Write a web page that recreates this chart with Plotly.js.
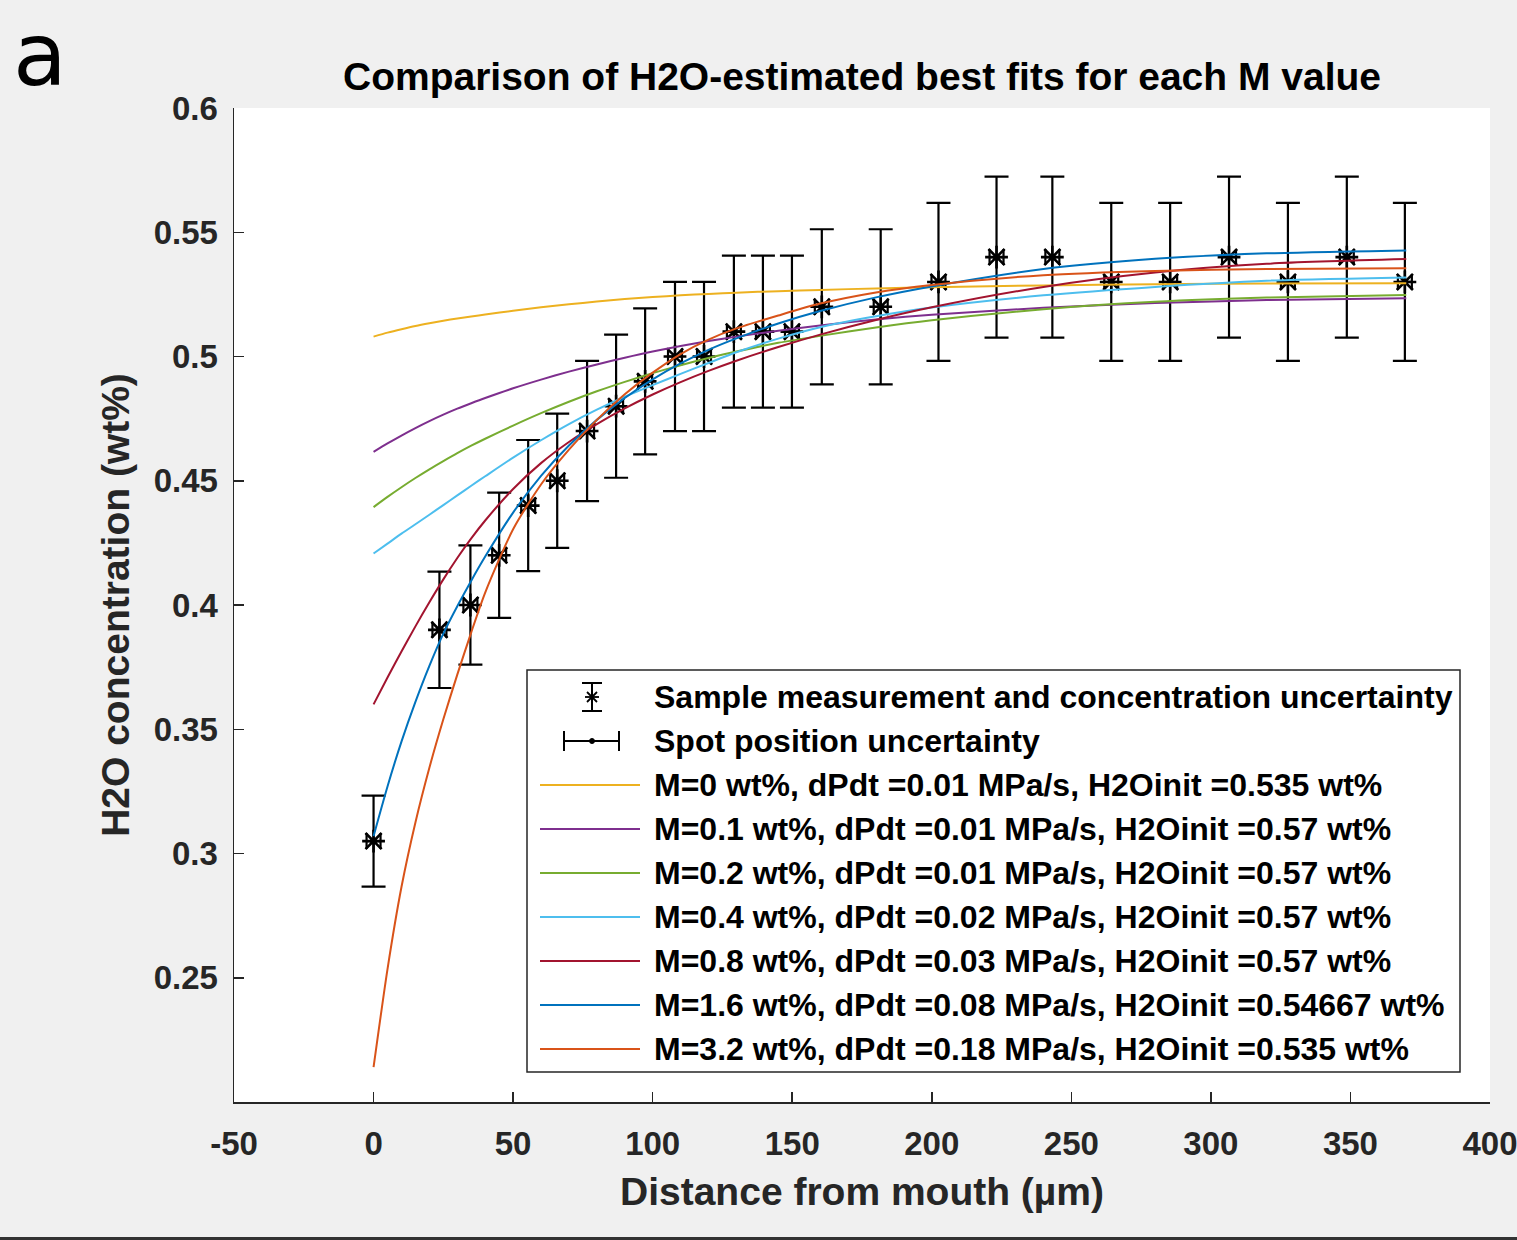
<!DOCTYPE html>
<html>
<head>
<meta charset="utf-8">
<script src="https://cdn.plot.ly/plotly-3.0.1.min.js"></script>
<style>html,body{margin:0;padding:0;background:#f0f0f0;}#chart{width:1517px;height:1240px;}</style>
</head>
<body>
<div id="chart"></div>
<script>
// ---------------- DATA ----------------
const positionUm = [0, 23.6, 34.7, 45, 55.4, 65.8, 76.5, 86.9, 97.3, 108, 118.4, 129.1, 139.5, 149.9, 160.6, 181.7, 202.4, 223.2, 243.2, 264.3, 285.4, 306.5, 327.6, 348.7, 369.5];
const h2oConc = [0.305, 0.39, 0.40, 0.42, 0.44, 0.45, 0.47, 0.48, 0.49, 0.50, 0.50, 0.51, 0.51, 0.51, 0.52, 0.52, 0.53, 0.54, 0.54, 0.53, 0.53, 0.54, 0.53, 0.54, 0.53];
const concErr = [0.0183, 0.0234, 0.024, 0.0252, 0.0264, 0.027, 0.0282, 0.0288, 0.0294, 0.03, 0.03, 0.0306, 0.0306, 0.0306, 0.0312, 0.0312, 0.0318, 0.0324, 0.0324, 0.0318, 0.0318, 0.0324, 0.0318, 0.0324, 0.0318];
const positionErr = [2.5, 2.5, 2.5, 2.5, 2.5, 2.5, 2.5, 2.5, 2.5, 2.5, 2.5, 2.5, 2.5, 2.5, 2.5, 2.5, 2.5, 2.5, 2.5, 2.5, 2.5, 2.5, 2.5, 2.5, 2.5];

const fitX = [0, 5, 10, 15, 20, 25, 30, 35, 40, 50, 60, 70, 80, 90, 100, 110, 120, 130, 145, 160, 180, 200, 240, 280, 320, 370];
const fitM0   = [0.508, 0.5096, 0.511, 0.5123, 0.5134, 0.5144, 0.5153, 0.5161, 0.5169, 0.5184, 0.5198, 0.521, 0.5221, 0.5231, 0.5239, 0.5246, 0.5252, 0.5257, 0.5263, 0.5268, 0.5274, 0.5279, 0.5286, 0.5291, 0.5294, 0.5295];
const fitM01  = [0.4616, 0.465, 0.4682, 0.4712, 0.474, 0.4766, 0.479, 0.4812, 0.4833, 0.4872, 0.4907, 0.4939, 0.4968, 0.4995, 0.502, 0.5042, 0.5062, 0.508, 0.5104, 0.5125, 0.5149, 0.5168, 0.5196, 0.5215, 0.5227, 0.5234];
const fitM02  = [0.4394, 0.4435, 0.4474, 0.4511, 0.4546, 0.4579, 0.4611, 0.4641, 0.4669, 0.4722, 0.4772, 0.4818, 0.486, 0.4898, 0.4933, 0.4965, 0.4994, 0.502, 0.5055, 0.5083, 0.5117, 0.5146, 0.519, 0.522, 0.5237, 0.5247];
const fitM04  = [0.4207, 0.4247, 0.4287, 0.4325, 0.4363, 0.4402, 0.4441, 0.448, 0.4518, 0.4593, 0.4663, 0.4728, 0.4786, 0.4838, 0.4885, 0.493, 0.4974, 0.5017, 0.5072, 0.5118, 0.5162, 0.5197, 0.5246, 0.528, 0.5305, 0.5318];
const fitM08  = [0.360, 0.3708, 0.3813, 0.3914, 0.4011, 0.4103, 0.4189, 0.4268, 0.434, 0.4467, 0.4571, 0.4656, 0.4728, 0.4791, 0.4847, 0.4897, 0.4942, 0.4983, 0.5038, 0.5088, 0.5147, 0.5198, 0.528, 0.5338, 0.5373, 0.5392];
const fitM16  = [0.307, 0.327, 0.345, 0.361, 0.3755, 0.3885, 0.3995, 0.4098, 0.4195, 0.4372, 0.452, 0.4642, 0.4745, 0.4833, 0.4908, 0.4972, 0.5027, 0.5073, 0.5133, 0.5183, 0.5238, 0.5282, 0.5352, 0.5393, 0.5415, 0.5427];
const fitM32  = [0.214, 0.2535, 0.2865, 0.3125, 0.3345, 0.354, 0.372, 0.389, 0.405, 0.4305, 0.4485, 0.4625, 0.4745, 0.4848, 0.4935, 0.501, 0.5068, 0.5113, 0.5165, 0.5213, 0.5258, 0.5288, 0.5327, 0.5344, 0.5352, 0.5355];

const fitSeries = [fitM0, fitM01, fitM02, fitM04, fitM08, fitM16, fitM32];
const fitLabels = [
  "M=0 wt%, dPdt =0.01 MPa/s, H2Oinit =0.535 wt%",
  "M=0.1 wt%, dPdt =0.01 MPa/s, H2Oinit =0.57 wt%",
  "M=0.2 wt%, dPdt =0.01 MPa/s, H2Oinit =0.57 wt%",
  "M=0.4 wt%, dPdt =0.02 MPa/s, H2Oinit =0.57 wt%",
  "M=0.8 wt%, dPdt =0.03 MPa/s, H2Oinit =0.57 wt%",
  "M=1.6 wt%, dPdt =0.08 MPa/s, H2Oinit =0.54667 wt%",
  "M=3.2 wt%, dPdt =0.18 MPa/s, H2Oinit =0.535 wt%"
];
const measLabels = ["Sample measurement and concentration uncertainty", "Spot position uncertainty"];
const xTicks = [-50, 0, 50, 100, 150, 200, 250, 300, 350, 400];
const xTickText = ["-50", "0", "50", "100", "150", "200", "250", "300", "350", "400"];
const yTicks = [0.25, 0.3, 0.35, 0.4, 0.45, 0.5, 0.55, 0.6];
const yTickText = ["0.25", "0.3", "0.35", "0.4", "0.45", "0.5", "0.55", "0.6"];

// ---------------- STYLE ----------------
const colors = ["#EDB120", "#7E2F8E", "#77AC30", "#4DBEEE", "#A2142F", "#0072BD", "#D95319"];
const FONT = "Liberation Sans, Arial, Helvetica, sans-serif";
const axisColor = "#262626";

// pixel -> paper helpers for the hand-drawn legend box
const PL = 234, PR = 1490, PT = 108, PB = 1102;
const px2x = p => (p - PL) / (PR - PL);
const py2y = p => (PB - p) / (PB - PT);

const traces = [];
traces.push({
  x: positionUm, y: h2oConc, type: "scatter", mode: "markers", name: measLabels[0],
  marker: {symbol: "asterisk-open", size: 19, color: "black", line: {width: 2.6, color: "black"}},
  error_y: {type: "data", array: concErr, visible: true, color: "black", thickness: 2.2, width: 12},
  showlegend: false, hoverinfo: "x+y"
});
traces.push({
  x: positionUm, y: h2oConc, type: "scatter", mode: "markers", name: measLabels[1],
  marker: {symbol: "circle", size: 3, color: "black"},
  error_x: {type: "data", array: positionErr, visible: true, color: "black", thickness: 2.2, width: 8},
  showlegend: false, hoverinfo: "x+y"
});
fitSeries.forEach((s, i) => {
  traces.push({
    x: fitX, y: s, type: "scatter", mode: "lines", name: fitLabels[i],
    line: {color: colors[i], width: 2, shape: "spline", smoothing: 0.7},
    showlegend: false
  });
});

// legend (drawn manually to mimic MATLAB legend glyphs)
const rowY = [697, 741, 785, 829, 873, 917, 961, 1005, 1049];
const shapes = [];
const annotations = [];
shapes.push({type: "rect", xref: "paper", yref: "paper", x0: px2x(527), x1: px2x(1460), y0: py2y(1072), y1: py2y(670),
  line: {color: "#262626", width: 1.5}, fillcolor: "white", layer: "above"});
const L = (x0, y0, x1, y1, color, w) => shapes.push({type: "line", xref: "paper", yref: "paper",
  x0: px2x(x0), y0: py2y(y0), x1: px2x(x1), y1: py2y(y1), line: {color: color, width: w}, layer: "above"});
// glyph 1: vertical error bar + asterisk
L(592, 683, 592, 711, "black", 2);
L(582, 683, 602, 683, "black", 2);
L(582, 711, 602, 711, "black", 2);
L(592, 690, 592, 704, "black", 1.8);
L(585, 697, 599, 697, "black", 1.8);
L(587, 692, 597, 702, "black", 1.8);
L(587, 702, 597, 692, "black", 1.8);
// glyph 2: horizontal error bar + dot
L(564, rowY[1], 619, rowY[1], "black", 2);
L(564, rowY[1] - 10, 564, rowY[1] + 10, "black", 2);
L(619, rowY[1] - 10, 619, rowY[1] + 10, "black", 2);
shapes.push({type: "circle", xref: "paper", yref: "paper", x0: px2x(589.5), x1: px2x(594.5), y0: py2y(743.5), y1: py2y(738.5),
  fillcolor: "black", line: {color: "black", width: 1}, layer: "above"});
// line samples
fitLabels.forEach((lab, i) => L(540, rowY[i + 2], 640, rowY[i + 2], colors[i], 2));
const allLabels = measLabels.concat(fitLabels);
allLabels.forEach((lab, i) => annotations.push({
  text: lab, xref: "paper", yref: "paper", x: px2x(652), y: py2y(rowY[i]), xanchor: "left", yanchor: "middle",
  showarrow: false, font: {family: FONT, size: 32, weight: "bold", color: "#000"}
}));
// panel letter
annotations.push({text: "a", xref: "paper", yref: "paper", x: px2x(11), y: py2y(1), xanchor: "left", yanchor: "top",
  showarrow: false, font: {family: "DejaVu Sans, sans-serif", size: 88, color: "#000"}});
// bottom border line of the figure image
shapes.push({type: "line", xref: "paper", yref: "paper", x0: px2x(0), x1: px2x(1517), y0: py2y(1238.5), y1: py2y(1238.5),
  line: {color: "#333", width: 3}, layer: "above"});

const layout = {
  width: 1517, height: 1240,
  paper_bgcolor: "#f0f0f0", plot_bgcolor: "#ffffff",
  margin: {l: PL, r: 1517 - PR, t: PT, b: 1240 - PB, pad: 0},
  showlegend: false,
  title: {
    text: "Comparison of H2O-estimated best fits for each M value",
    font: {family: FONT, size: 39, weight: "bold", color: "#000"},
    x: (PL + PR) / 2 / 1517, xanchor: "center", xref: "container",
    y: 1 - 76 / 1240, yanchor: "middle", yref: "container"
  },
  xaxis: {
    range: [-50, 400], tickvals: xTicks, ticktext: xTickText, ticks: "inside", ticklen: 10, tickwidth: 1.5, tickcolor: axisColor,
    showline: true, linecolor: axisColor, linewidth: 1.5, mirror: false, showgrid: false, zeroline: false,
    tickfont: {family: FONT, size: 33, weight: "bold", color: axisColor}, ticklabelstandoff: 12, ticklabeloverflow: "allow",
    title: {text: "Distance from mouth (µm)", font: {family: FONT, size: 39, weight: "bold", color: axisColor}, standoff: 16},
    automargin: false
  },
  yaxis: {
    range: [0.2, 0.6], tickvals: yTicks, ticktext: yTickText, ticks: "inside", ticklen: 10, tickwidth: 1.5, tickcolor: axisColor,
    showline: true, linecolor: axisColor, linewidth: 1.5, mirror: false, showgrid: false, zeroline: false,
    tickfont: {family: FONT, size: 33, weight: "bold", color: axisColor}, ticklabelstandoff: 8, ticklabeloverflow: "allow",
    title: {text: "H2O concentration (wt%)", font: {family: FONT, size: 39, weight: "bold", color: axisColor}, standoff: 12},
    automargin: false
  },
  shapes: shapes,
  annotations: annotations
};

Plotly.newPlot("chart", traces, layout, {displayModeBar: false, staticPlot: true});
</script>
</body>
</html>
